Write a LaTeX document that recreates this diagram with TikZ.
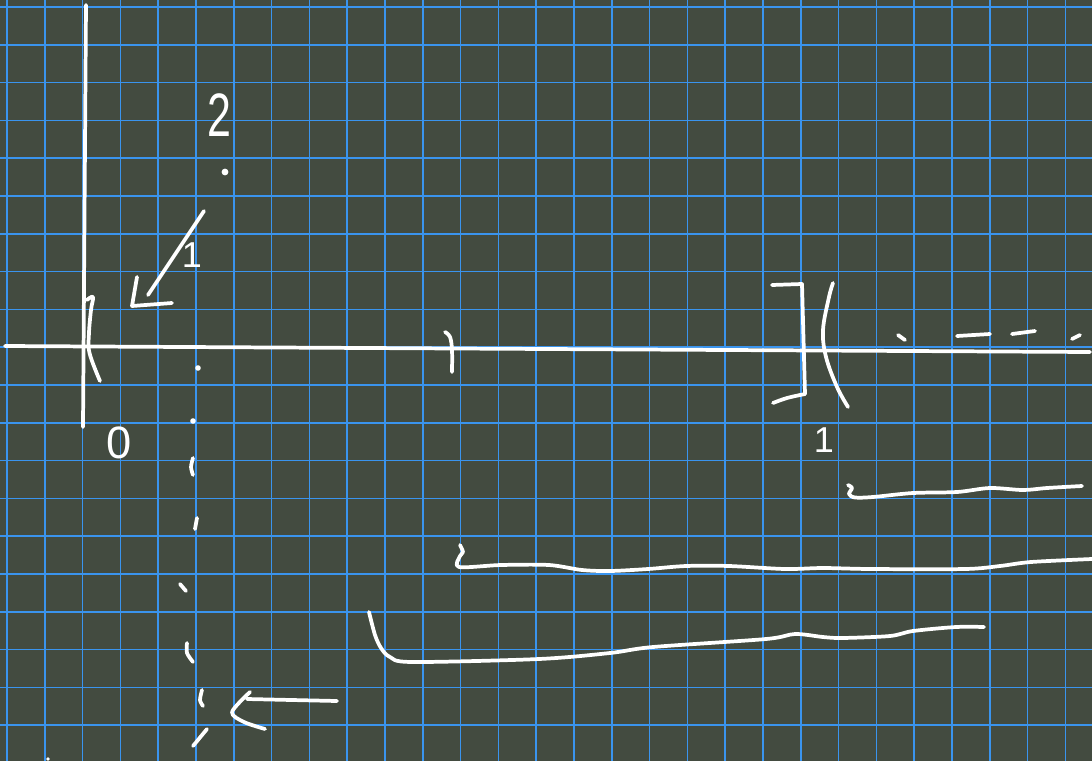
\documentclass[tikz,border=0pt]{standalone}
\usepackage{fontspec}
\setmainfont{Liberation Sans}
\usepackage{xcolor}
\usepackage{tikz}
\usetikzlibrary{positioning,calc}
\definecolor{board}{HTML}{434B40}
\definecolor{gridblue}{HTML}{3A94EE}

\begin{document}
\begin{tikzpicture}[
  x=0.75pt, y=-0.75pt,
  gridline/.style={draw=gridblue, line width=1.3pt},
  ink/.style={draw=white, line width=2.8pt, line cap=round, line join=round},
  speck/.style={fill=white},
  digit/.style={text=white, inner sep=0pt, anchor=center},
  ]
  \useasboundingbox (0,0) rectangle (1092,761);
  \fill[board] (0,0) rectangle (1092,761);
  \foreach \k in {0,...,28}
    \draw[gridline] ({7+37.8*\k},0) -- ({7+37.8*\k},761);
  \foreach \k in {0,...,19}
    \draw[gridline] (0,{7+37.8*\k}) -- (1092,{7+37.8*\k});

  % axes
  \coordinate (ytop) at (86,5);
  \coordinate (ybot) at (83,427);
  \coordinate (xleft) at (5,346);
  \coordinate (xright) at (1090,352);
  \draw[ink] (ytop) -- (ybot);
  \draw[ink] (xleft) -- (xright);

  % marks on the line
  \draw[ink] plot[smooth, tension=0.6] coordinates {(87,300) (93,297) (91,310) (89,333) (89.5,353) (100,381)};
  \draw[ink] plot[smooth, tension=0.6] coordinates {(445,332) (450,337) (452,350) (452,372)};
  \draw[ink] (772,285) -- (802,284) -- (805,394);
  \draw[ink] plot[smooth, tension=0.6] coordinates {(805,394) (787,398) (773,403)};
  \draw[ink] plot[smooth, tension=0.6] coordinates {(833,283) (829,297) (823,330) (826,357) (837,387) (848,407)};
  \draw[ink] (898,335) -- (905,340);
  \draw[ink] (957,336) -- (990,334);
  \draw[ink] (1012,334) -- (1035,331);
  \draw[ink] (1072,339) -- (1080,335);

  % labels
  \node[digit, font=\fontsize{46}{46}\selectfont, xscale=0.7] (lbltwo) at (219,115) {2};
  \node[digit, font=\fontsize{34}{34}\selectfont] (lblzero) at (119,443) {0};
  \node[digit, font=\fontsize{27}{27}\selectfont] (lblarrow) at (192,255) {1};
  \node[digit, font=\fontsize{27}{27}\selectfont] (lblone) at (824,440) {1};

  % arrow to the origin
  \coordinate (diagtail) at (204,211);
  \coordinate (diagtip) at (148,295);
  \draw[ink] (diagtail) -- (diagtip);
  \draw[ink] (137,277) -- (132,306) -- (172,303);

  % dotted column
  \fill[speck] (225,172) circle (3.4);
  \fill[speck] (198,368) circle (2.8);
  \fill[speck] (193,421) circle (2.8);
  \fill[speck] (48,759) circle (1.8);
  \draw[ink] plot[smooth] coordinates {(193,458) (191,467) (193,475)};
  \draw[ink] (197,518) -- (195,529);
  \draw[ink] (180,584) -- (186,591);
  \draw[ink] plot[smooth] coordinates {(187,643) (187,653) (193,662)};
  \draw[ink] plot[smooth] coordinates {(202,690) (200,700) (203,706)};
  \draw[ink] (207,729) -- (193,746);

  % arrow from the right
  \coordinate (lefttail) at (337,701);
  \coordinate (lefttip) at (247,699);
  \draw[ink] (lefttail) -- (lefttip);
  \draw[ink] plot[smooth, tension=0.5] coordinates {(250,692) (232,712) (244,722) (265,729)};

  % strokes below
  \draw[ink] plot[smooth, tension=0.5] coordinates {(848,485) (852,488) (849,494) (855,497.5) (873,497) (913,493) (957,492) (990,488) (1023,490) (1047,488) (1082,486)};
  \draw[ink] plot[smooth, tension=0.5] coordinates {(460,545) (463,552) (460,556) (459,567) (501,565) (549,565) (582,570) (610,571) (648,569) (686,566) (729,566) (785,569) (823,568) (871,569) (965,569) (1000,566) (1031,562) (1092,559)};
  \draw[ink] plot[smooth, tension=0.5] coordinates {(369,612) (375,635) (381,648) (390,657) (412,662) (539,659) (610,653) (653,647) (766,639) (795,634) (823,637) (842,638) (890,636) (913,631) (956,627) (984,627)};
\end{tikzpicture}
\end{document}
